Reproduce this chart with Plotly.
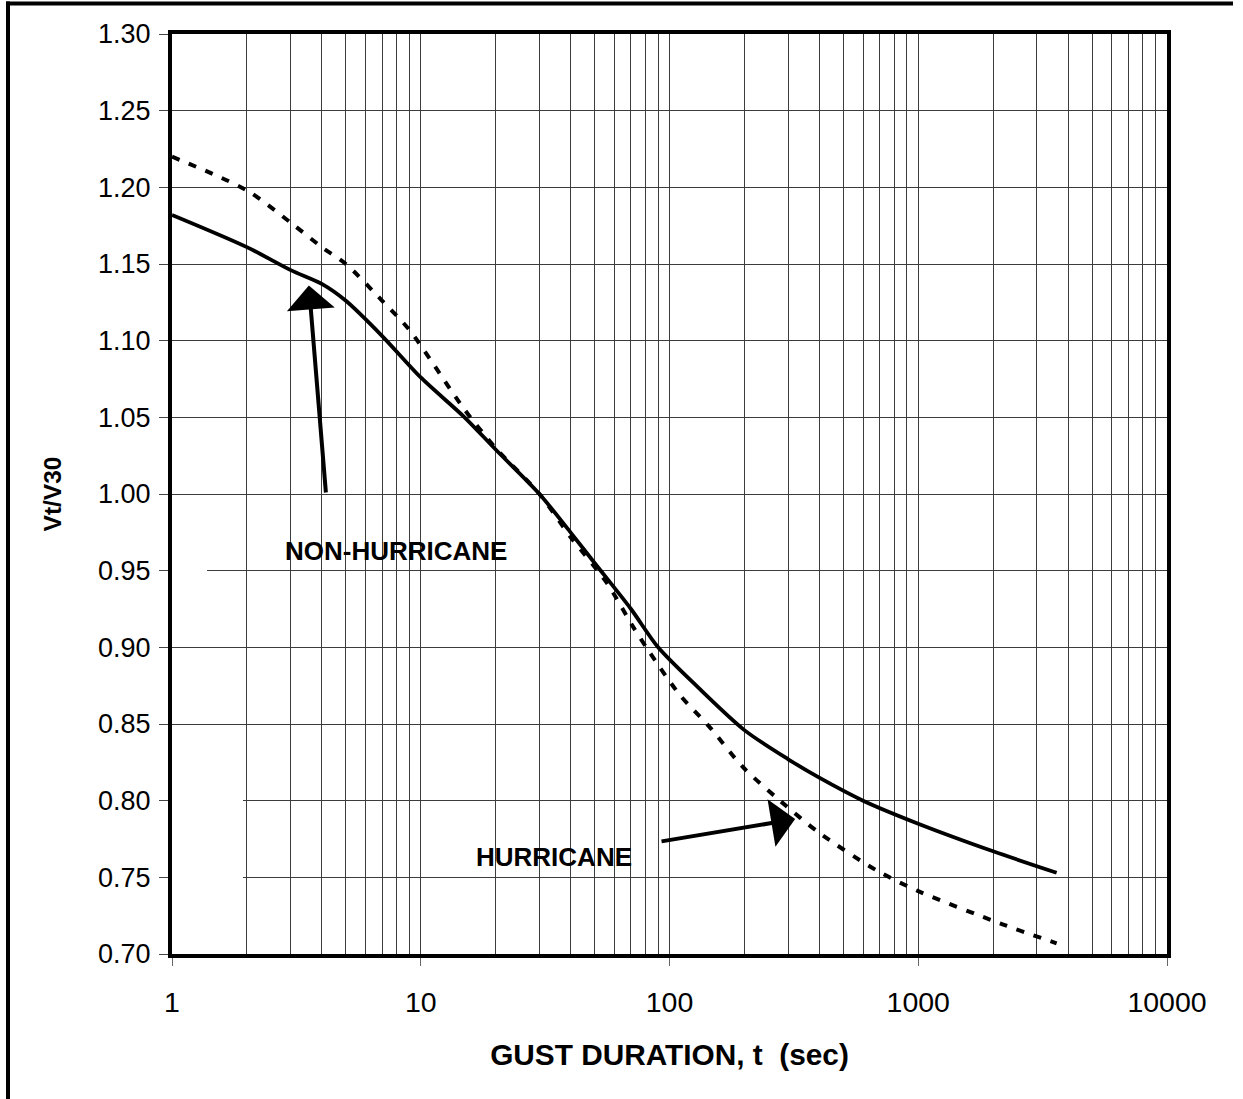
import numpy as np
import plotly.graph_objects as go

# ---- data ----
t_non_hurricane = [1, 2, 3, 4, 5, 7, 10, 15, 20, 30, 40, 50, 70, 90, 130, 200, 300, 400, 600, 1000, 2000, 3600]
v_non_hurricane = [1.182, 1.161, 1.146, 1.137, 1.126, 1.103, 1.076, 1.050, 1.029, 1.000, 0.975, 0.955,
                   0.925, 0.900, 0.874, 0.846, 0.827, 0.815, 0.800, 0.785, 0.767, 0.753]

t_hurricane = [1, 2, 3, 4, 5, 7, 9, 15, 20, 30, 40, 56, 71, 83, 110, 145, 197, 278, 400, 680, 1000, 2130, 3600]
v_hurricane = [1.220, 1.198, 1.177, 1.161, 1.150, 1.126, 1.107, 1.055, 1.030, 1.000, 0.972, 0.942,
               0.914, 0.897, 0.869, 0.848, 0.822, 0.800, 0.779, 0.7545, 0.741, 0.720, 0.707]

x_tick_vals = [1, 10, 100, 1000, 10000]
x_tick_text = ["1", "10", "100", "1000", "10000"]
y_tick_vals = [0.70, 0.75, 0.80, 0.85, 0.90, 0.95, 1.00, 1.05, 1.10, 1.15, 1.20, 1.25, 1.30]

W, H = 1243, 1099
L, R, T, B = 172, 76, 34, 145
PW, PH = W - L - R, H - T - B


def px2paper_x(px):
    return (px - L) / PW


def px2paper_y(py):
    return (H - B - py) / PH


FONT = "Liberation Sans, Arial, sans-serif"
GRID = "#3c3c3c"

fig = go.Figure()
fig.add_trace(go.Scatter(
    x=t_hurricane, y=v_hurricane, mode="lines", name="HURRICANE",
    line=dict(color="black", width=4, dash="8px,10px", shape="spline", smoothing=0.8),
    showlegend=False))
fig.add_trace(go.Scatter(
    x=t_non_hurricane, y=v_non_hurricane, mode="lines", name="NON-HURRICANE",
    line=dict(color="black", width=3.8, shape="spline", smoothing=0.8),
    showlegend=False))

fig.update_layout(
    width=W, height=H,
    margin=dict(l=L, r=R, t=T, b=B, pad=0),
    paper_bgcolor="white", plot_bgcolor="white",
    font=dict(family=FONT, color="black"),
    xaxis=dict(
        type="log", range=[0, 4],
        tickvals=x_tick_vals, ticktext=x_tick_text,
        tickfont=dict(size=28.5, family=FONT, color="black"),
        ticks="outside", ticklen=8, tickwidth=1, tickcolor="#666",
        ticklabelstandoff=12,
        showgrid=True, gridcolor=GRID, gridwidth=1,
        minor=dict(dtick="D1", showgrid=True, gridcolor=GRID, gridwidth=1, ticks=""),
        showline=True, linecolor="black", linewidth=4, mirror=True,
        zeroline=False,
        title=dict(text="<b>GUST DURATION, t \u00a0(sec)</b>",
                   font=dict(size=29.8, family=FONT, color="black"), standoff=28),
    ),
    yaxis=dict(
        range=[0.70, 1.30], tickvals=y_tick_vals, tickformat=".2f",
        tickfont=dict(size=27, family=FONT, color="black"),
        ticks="outside", ticklen=9, tickwidth=1, tickcolor="#444",
        ticklabelstandoff=3,
        showgrid=True, gridcolor=GRID, gridwidth=1,
        showline=True, linecolor="black", linewidth=4, mirror=True,
        zeroline=False,
        title=dict(text="<b>Vt/V30</b>",
                   font=dict(size=24.5, family=FONT, color="black"), standoff=30),
    ),
)

# white label boxes (drawn over the grid, under the curves)
fig.add_shape(type="rect", xref="x", yref="y",
              x0=np.log10(1.449), x1=np.log10(24.15), y0=0.926, y1=0.998,
              fillcolor="white", line=dict(width=0), layer="between")
fig.add_shape(type="rect", xref="x", yref="y",
              x0=np.log10(8.41), x1=np.log10(85.0), y0=0.7276, y1=0.8006,
              fillcolor="white", line=dict(width=0), layer="between")

fig.add_annotation(x=np.log10(7.93), y=0.963, xref="x", yref="y", text="<b>NON-HURRICANE</b>",
                   showarrow=False, font=dict(size=26, family=FONT, color="black"))
fig.add_annotation(x=np.log10(34.4), y=0.7635, xref="x", yref="y", text="<b>HURRICANE</b>",
                   showarrow=False, font=dict(size=26, family=FONT, color="black"))

# arrows
fig.add_annotation(x=np.log10(3.55), y=1.136, xref="x", yref="y",
                   ax=np.log10(4.16), ay=1.000, axref="x", ayref="y",
                   text="", showarrow=True, arrowhead=1, arrowsize=2.0, arrowwidth=4,
                   arrowcolor="black", standoff=0, startstandoff=0)
fig.add_annotation(x=np.log10(320.0), y=0.788, xref="x", yref="y",
                   ax=np.log10(91.6), ay=0.7733, axref="x", ayref="y",
                   text="", showarrow=True, arrowhead=1, arrowsize=2.0, arrowwidth=4,
                   arrowcolor="black", standoff=0, startstandoff=0)

# outer frame of the figure (left and top edges)
fig.add_shape(type="line", xref="paper", yref="paper",
              x0=px2paper_x(8), x1=px2paper_x(8), y0=px2paper_y(1.5), y1=px2paper_y(1099),
              line=dict(color="black", width=4))
fig.add_shape(type="line", xref="paper", yref="paper",
              x0=px2paper_x(6), x1=px2paper_x(1233), y0=px2paper_y(3.5), y1=px2paper_y(3.5),
              line=dict(color="black", width=4))

fig.write_html("out.html", config={"displayModeBar": False},
               post_script="document.body.style.margin='0';document.body.style.overflow='hidden';")
